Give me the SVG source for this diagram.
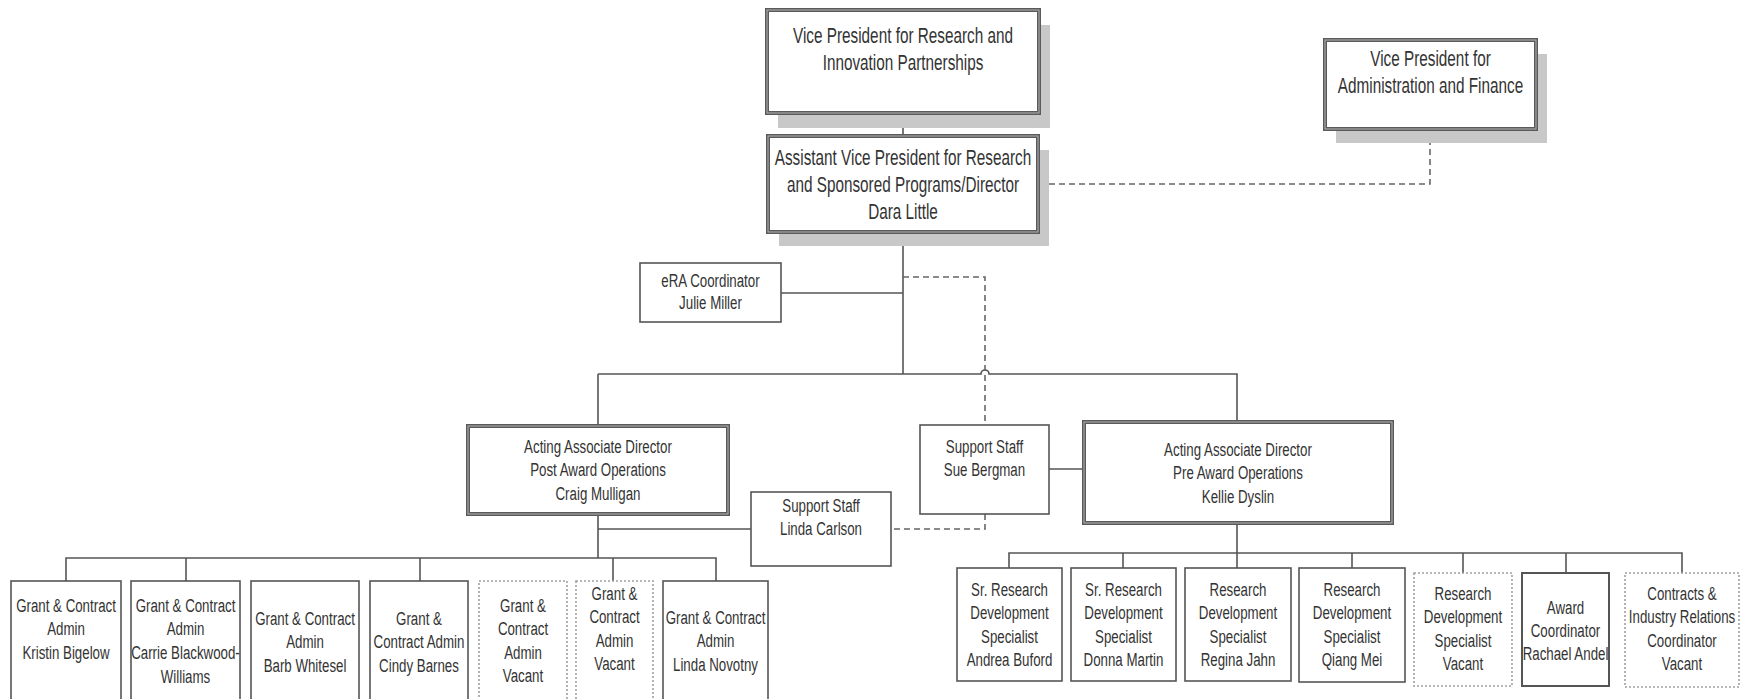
<svg xmlns="http://www.w3.org/2000/svg" width="1743" height="699" viewBox="0 0 1743 699">
<style>
  .bg{fill:#ffffff}
  .shadow{fill:#c8c8c8;stroke:none}
  .main{fill:#ffffff;stroke:#5a5a5a;stroke-width:4}
  .mainin{fill:none;stroke:#b4b4b4;stroke-width:1}
  .box{fill:#ffffff;stroke:#555555;stroke-width:1.6}
  .vac{fill:#ffffff;stroke:#a0a0a0;stroke-width:1.6;stroke-dasharray:2 2}
  .ln{fill:none;stroke:#555555;stroke-width:1.6}
  .dash{fill:none;stroke:#666666;stroke-width:1.6;stroke-dasharray:6 4}
  text{font-family:"Liberation Sans",Arial,sans-serif;fill:#333333;text-anchor:middle}
  .big{font-size:15.3px}
  .sm{font-size:13.3px}
</style>
<rect class="bg" x="0" y="0" width="1743" height="699"/>

<g id="connectors">
  <path class="ln" d="M903,113 V136"/>
  <path class="ln" d="M903,232 V374"/>
  <path class="ln" d="M781,293 H903"/>
  <path class="ln" d="M598,374 H981 A4,4 0 0 1 989,374 H1237 V422"/>
  <path class="ln" d="M598,374 V426"/>
  <path class="ln" d="M598,514 V558"/>
  <path class="ln" d="M598,529 H751"/>
  <path class="ln" d="M1049,469 H1084"/>
  <path class="ln" d="M66,581 V558 H716 V581"/>
  <path class="ln" d="M186,558 V581"/>
  <path class="ln" d="M420,558 V581"/>
  <path class="ln" d="M613,558 V581"/>
  <path class="ln" d="M1237,523 V568"/>
  <path class="ln" d="M1009,568 V553 H1682 V573"/>
  <path class="ln" d="M1123,553 V568"/>
  <path class="ln" d="M1352,553 V568"/>
  <path class="ln" d="M1463,553 V573"/>
  <path class="ln" d="M1566,553 V573"/>
  <path class="dash" d="M1430,129 V184 H1038"/>
  <path class="dash" d="M903,277 H985 V425"/>
  <path class="dash" d="M985,514 V529 H891"/>
</g>

<g id="vp-research">
  <rect class="shadow" x="778" y="25" width="272" height="103"/>
  <rect class="main" x="767" y="10" width="272" height="103"/>
  <rect class="mainin" x="767" y="10" width="272" height="103"/>
  <text class="big" transform="translate(903,42.5) scale(1,1.4)"><tspan x="0" y="0">Vice President for Research and</tspan><tspan x="0" dy="19.3">Innovation Partnerships</tspan></text>
</g>

<g id="vp-admin">
  <rect class="shadow" x="1336" y="54" width="211" height="89"/>
  <rect class="main" x="1325" y="40" width="211" height="89"/>
  <rect class="mainin" x="1325" y="40" width="211" height="89"/>
  <text class="big" transform="translate(1430.5,65.5) scale(1,1.4)"><tspan x="0" y="0">Vice President for</tspan><tspan x="0" dy="19.3">Administration and Finance</tspan></text>
</g>

<g id="avp">
  <rect class="shadow" x="779" y="150" width="270" height="96"/>
  <rect class="main" x="768" y="136" width="270" height="96"/>
  <rect class="mainin" x="768" y="136" width="270" height="96"/>
  <text class="big" transform="translate(903,164.5) scale(1,1.4)"><tspan x="0" y="0">Assistant Vice President for Research</tspan><tspan x="0" dy="19.6">and Sponsored Programs/Director</tspan><tspan x="0" dy="19.6">Dara Little</tspan></text>
</g>

<g id="era">
  <rect class="box" x="640" y="263" width="141" height="59"/>
  <text class="sm" transform="translate(710.5,286.5) scale(1,1.4)"><tspan x="0" y="0">eRA Coordinator</tspan><tspan x="0" dy="16.4">Julie Miller</tspan></text>
</g>

<g id="post-award">
  <rect class="main" x="468" y="426" width="260" height="88"/>
  <rect class="mainin" x="468" y="426" width="260" height="88"/>
  <text class="sm" transform="translate(598,452.5) scale(1,1.4)"><tspan x="0" y="0">Acting Associate Director</tspan><tspan x="0" dy="16.8">Post Award Operations</tspan><tspan x="0" dy="16.8">Craig Mulligan</tspan></text>
</g>

<g id="sue-bergman">
  <rect class="box" x="920" y="425" width="129" height="89"/>
  <text class="sm" transform="translate(984.5,452.5) scale(1,1.4)"><tspan x="0" y="0">Support Staff</tspan><tspan x="0" dy="16.5">Sue Bergman</tspan></text>
</g>

<g id="linda-carlson">
  <rect class="box" x="751" y="492" width="140" height="74"/>
  <text class="sm" transform="translate(821,511.5) scale(1,1.4)"><tspan x="0" y="0">Support Staff</tspan><tspan x="0" dy="16.5">Linda Carlson</tspan></text>
</g>

<g id="pre-award">
  <rect class="main" x="1084" y="422" width="308" height="101"/>
  <rect class="mainin" x="1084" y="422" width="308" height="101"/>
  <text class="sm" transform="translate(1238,455.5) scale(1,1.4)"><tspan x="0" y="0">Acting Associate Director</tspan><tspan x="0" dy="16.8">Pre Award Operations</tspan><tspan x="0" dy="16.8">Kellie Dyslin</tspan></text>
</g>

<g id="gca-bigelow">
  <rect class="box" x="11" y="581" width="110" height="130"/>
  <text class="sm" transform="translate(66,611.5) scale(1,1.4)"><tspan x="0" y="0">Grant &amp; Contract</tspan><tspan x="0" dy="17.1">Admin</tspan><tspan x="0" dy="17.1">Kristin Bigelow</tspan></text>
</g>

<g id="gca-blackwood">
  <rect class="box" x="131" y="581" width="109" height="130"/>
  <text class="sm" transform="translate(185.5,611.5) scale(1,1.4)"><tspan x="0" y="0">Grant &amp; Contract</tspan><tspan x="0" dy="17.1">Admin</tspan><tspan x="0" dy="17.1">Carrie Blackwood-</tspan><tspan x="0" dy="17.1">Williams</tspan></text>
</g>

<g id="gca-whitesel">
  <rect class="box" x="251" y="581" width="108" height="130"/>
  <text class="sm" transform="translate(305,624.5) scale(1,1.4)"><tspan x="0" y="0">Grant &amp; Contract</tspan><tspan x="0" dy="16.9">Admin</tspan><tspan x="0" dy="16.9">Barb Whitesel</tspan></text>
</g>

<g id="gca-barnes">
  <rect class="box" x="370" y="581" width="98" height="130"/>
  <text class="sm" transform="translate(419,624.5) scale(1,1.4)"><tspan x="0" y="0">Grant &amp;</tspan><tspan x="0" dy="16.9">Contract Admin</tspan><tspan x="0" dy="16.9">Cindy Barnes</tspan></text>
</g>

<g id="gca-vacant-1">
  <rect class="vac" x="479" y="581" width="88" height="130"/>
  <text class="sm" transform="translate(523,611.5) scale(1,1.4)"><tspan x="0" y="0">Grant &amp;</tspan><tspan x="0" dy="16.9">Contract</tspan><tspan x="0" dy="16.9">Admin</tspan><tspan x="0" dy="16.9">Vacant</tspan></text>
</g>

<g id="gca-vacant-2">
  <rect class="vac" x="576" y="581" width="77" height="130"/>
  <text class="sm" transform="translate(614.5,599.5) scale(1,1.4)"><tspan x="0" y="0">Grant &amp;</tspan><tspan x="0" dy="16.9">Contract</tspan><tspan x="0" dy="16.9">Admin</tspan><tspan x="0" dy="16.9">Vacant</tspan></text>
</g>

<g id="gca-novotny">
  <rect class="box" x="663" y="581" width="105" height="130"/>
  <text class="sm" transform="translate(715.5,623.5) scale(1,1.4)"><tspan x="0" y="0">Grant &amp; Contract</tspan><tspan x="0" dy="16.8">Admin</tspan><tspan x="0" dy="16.8">Linda Novotny</tspan></text>
</g>

<g id="srds-buford">
  <rect class="box" x="957" y="568" width="105" height="113"/>
  <text class="sm" transform="translate(1009.5,595.5) scale(1,1.4)"><tspan x="0" y="0">Sr. Research</tspan><tspan x="0" dy="16.9">Development</tspan><tspan x="0" dy="16.9">Specialist</tspan><tspan x="0" dy="16.9">Andrea Buford</tspan></text>
</g>

<g id="srds-martin">
  <rect class="box" x="1071" y="568" width="105" height="113"/>
  <text class="sm" transform="translate(1123.5,595.5) scale(1,1.4)"><tspan x="0" y="0">Sr. Research</tspan><tspan x="0" dy="16.9">Development</tspan><tspan x="0" dy="16.9">Specialist</tspan><tspan x="0" dy="16.9">Donna Martin</tspan></text>
</g>

<g id="rds-jahn">
  <rect class="box" x="1185" y="568" width="106" height="113"/>
  <text class="sm" transform="translate(1238,595.5) scale(1,1.4)"><tspan x="0" y="0">Research</tspan><tspan x="0" dy="16.9">Development</tspan><tspan x="0" dy="16.9">Specialist</tspan><tspan x="0" dy="16.9">Regina Jahn</tspan></text>
</g>

<g id="rds-mei">
  <rect class="box" x="1299" y="568" width="106" height="114"/>
  <text class="sm" transform="translate(1352,595.5) scale(1,1.4)"><tspan x="0" y="0">Research</tspan><tspan x="0" dy="16.9">Development</tspan><tspan x="0" dy="16.9">Specialist</tspan><tspan x="0" dy="16.9">Qiang Mei</tspan></text>
</g>

<g id="rds-vacant">
  <rect class="vac" x="1414" y="573" width="98" height="113"/>
  <text class="sm" transform="translate(1463,599.5) scale(1,1.4)"><tspan x="0" y="0">Research</tspan><tspan x="0" dy="16.9">Development</tspan><tspan x="0" dy="16.9">Specialist</tspan><tspan x="0" dy="16.9">Vacant</tspan></text>
</g>

<g id="award-coordinator">
  <rect class="box" x="1522" y="573" width="87" height="113" style="stroke-width:2"/>
  <text class="sm" transform="translate(1565.5,613.5) scale(1,1.4)"><tspan x="0" y="0">Award</tspan><tspan x="0" dy="16.5">Coordinator</tspan><tspan x="0" dy="16.5">Rachael Andel</tspan></text>
</g>

<g id="contracts-vacant">
  <rect class="vac" x="1625" y="573" width="114" height="114"/>
  <text class="sm" transform="translate(1682,599.5) scale(1,1.4)"><tspan x="0" y="0">Contracts &amp;</tspan><tspan x="0" dy="16.9">Industry Relations</tspan><tspan x="0" dy="16.9">Coordinator</tspan><tspan x="0" dy="16.9">Vacant</tspan></text>
</g>
</svg>
